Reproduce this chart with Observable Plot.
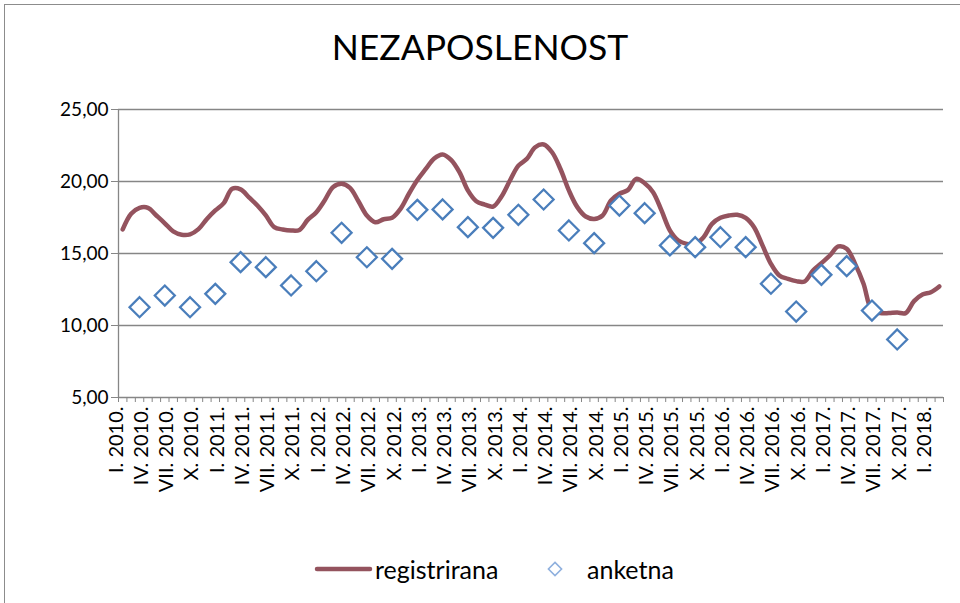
<!DOCTYPE html>
<html>
<head>
<meta charset="utf-8">
<script src="https://cdn.jsdelivr.net/npm/d3@7"></script>
<script src="https://cdn.jsdelivr.net/npm/@observablehq/plot@0.6"></script>
<style>
  body { margin: 0; background: #fff; }
  #wrap { position: relative; width: 960px; height: 603px; overflow: hidden; background: #fff; font-family: Lato, "Open Sans", sans-serif; }
  #chart { position: absolute; left: 0; top: 0; }
  #title { position: absolute; left: 0; top: 26px; width: 960px; text-align: center; font-size: 35.5px; color: #000; line-height: 1.2; }
  #legend { position: absolute; left: 0; top: 549px; }
  #frame { position: absolute; left: 4px; top: 4px; width: 1000px; height: 700px; border: 1px solid #8c8c8c; box-sizing: border-box; }
</style>
</head>
<body>
<div id="wrap">
  <div id="chart"></div>
  <div id="title"></div>
  <svg id="legend" width="960" height="40"></svg>
  <div id="frame"></div>
</div>
<script>
// ---- data ----
const titleText = "NEZAPOSLENOST";
const seriesNames = ["registrirana", "anketna"];
const romanQuarters = ["I", "IV", "VII", "X"];
const years = [2010, 2011, 2012, 2013, 2014, 2015, 2016, 2017, 2018];
const yTicks = [5, 10, 15, 20, 25];

// monthly registered unemployment, I.2010 – II.2018
const registrirana = [
  16.67, 17.76, 18.17, 18.17, 17.64, 17.10, 16.53, 16.30, 16.33, 16.69, 17.40, 17.99,
  18.50, 19.49, 19.45, 18.90, 18.33, 17.64, 16.83, 16.67, 16.60, 16.64, 17.35, 17.87,
  18.70, 19.62, 19.84, 19.56, 18.63, 17.64, 17.17, 17.38, 17.48, 18.10, 19.15, 20.10,
  20.87, 21.60, 21.88, 21.50, 20.65, 19.38, 18.63, 18.40, 18.26, 18.96, 20.07, 21.10,
  21.57, 22.38, 22.57, 22.03, 20.87, 19.38, 18.22, 17.57, 17.40, 17.64, 18.68, 19.15,
  19.40, 20.18, 19.88, 19.26, 17.99, 16.60, 15.90, 15.67, 15.67, 16.13, 17.06, 17.48,
  17.64, 17.69, 17.48, 16.83, 15.56, 14.28, 13.47, 13.24, 13.08, 13.06, 13.82, 14.33,
  14.86, 15.49, 15.33, 14.28, 12.90, 11.04, 10.86, 10.86, 10.90, 10.86, 11.69, 12.15,
  12.31, 12.71
];
// quarterly survey unemployment, III.2010 – IX.2017
const anketna = [
  11.27, 12.08, 11.27, 12.20, 14.40, 14.05, 12.78, 13.77, 16.44, 14.74, 14.63, 18.03,
  18.06, 16.83, 16.78, 17.69, 18.75, 16.60, 15.72, 18.33, 17.80, 15.56, 15.44, 16.13,
  15.44, 12.90, 10.97, 13.52, 14.12, 11.04, 9.03
];
const anketnaFirstMonth = 2;   // March 2010
const anketnaStep = 3;         // quarterly

// ---- derived ----
const months = registrirana.length;
const quarterLabels = [];
for (const y of years) for (const q of romanQuarters) {
  if (quarterLabels.length * 3 < months) quarterLabels.push(`${q}. ${y}.`);
}

const lineColor = "#94535e";
const dotColor = "#4a7ebb";
const gridColor = "#868686";
const font = "Lato, 'Open Sans', sans-serif";

const chart = Plot.plot({
  width: 960,
  height: 520,
  marginLeft: 118,
  marginRight: 17,
  marginTop: 109,
  marginBottom: 123,
  x: { type: "linear", domain: [0, months], axis: null },
  y: { type: "linear", domain: [yTicks[0], yTicks[yTicks.length - 1]], axis: null },
  style: { fontFamily: font, fontSize: "19px", color: "#000", background: "transparent" },
  marks: [
    Plot.gridY(yTicks, { stroke: gridColor, strokeOpacity: 1, strokeWidth: 1.3 }),
    Plot.ruleX([0], { stroke: gridColor, strokeWidth: 1.3 }),
    Plot.axisY(yTicks, {
      tickSize: 7, tickPadding: 3, stroke: gridColor, fill: "#000", label: null,
      fontSize: 19, tickFormat: d => d.toFixed(2).replace(".", ",")
    }),
    Plot.axisX(d3.range(months + 1), { tickSize: 5, stroke: gridColor, fill: "none", label: null }),
    Plot.text(quarterLabels, {
      x: (d, i) => i * 3 + 0.5, text: d => d, frameAnchor: "bottom",
      rotate: -90, textAnchor: "end", dy: 9, fontSize: 20, fill: "#000"
    }),
    Plot.line(registrirana, {
      x: (d, i) => i + 0.5, y: d => d, curve: "catmull-rom",
      stroke: lineColor, strokeWidth: 4.5, strokeLinejoin: "round", strokeLinecap: "round"
    }),
    Plot.dot(anketna, {
      x: (d, i) => anketnaFirstMonth + anketnaStep * i + 0.5, y: d => d,
      symbol: "diamond2", r: 9, stroke: dotColor, strokeWidth: 2.3, fill: "white"
    })
  ]
});
document.getElementById("chart").appendChild(chart);
document.getElementById("title").textContent = titleText;

// legend
const lg = d3.select("#legend");
lg.append("line").attr("x1", 317).attr("x2", 370).attr("y1", 20).attr("y2", 20)
  .attr("stroke", lineColor).attr("stroke-width", 4.5).attr("stroke-linecap", "round");
lg.append("text").attr("x", 375).attr("y", 20).attr("dominant-baseline", "central")
  .attr("font-family", font).attr("font-size", 25).text(seriesNames[0]);
lg.append("path").attr("d", d3.symbol(d3.symbolDiamond2, 110)()).attr("transform", "translate(555,20)")
  .attr("fill", "white").attr("stroke", "#8fb0de").attr("stroke-width", 1.6);
lg.append("text").attr("x", 587).attr("y", 20).attr("dominant-baseline", "central")
  .attr("font-family", font).attr("font-size", 25).text(seriesNames[1]);
</script>
</body>
</html>
